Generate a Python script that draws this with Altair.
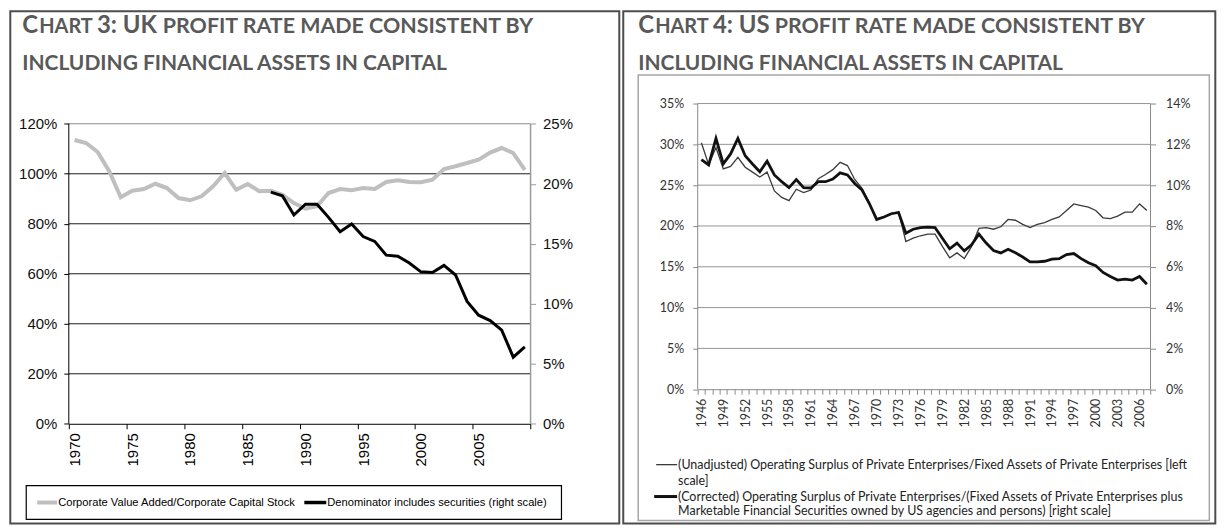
import altair as alt
import pandas as pd

# ---------------- data ----------------
uk_years = list(range(1970, 2010))
uk_corporate = [113.5, 112.3, 108.7, 101.0, 90.6, 93.2, 93.9, 96.0, 94.3, 90.3,
                89.4, 91.0, 95.0, 100.3, 93.6, 95.9, 93.0, 93.2, 91.6, 88.3,
                86.0, 87.0, 92.3, 93.9, 93.4, 94.3, 93.9, 96.7, 97.4, 96.7,
                96.6, 97.6, 101.9, 103.0, 104.3, 105.6, 108.5, 110.3, 108.3, 101.6]
uk_sec_years = list(range(1987, 2010))
uk_securities = [19.3, 19.0, 17.4, 18.3, 18.3, 17.2, 16.0, 16.65, 15.6, 15.2,
                 14.05, 13.96, 13.4, 12.66, 12.6, 13.2, 12.4, 10.2, 9.05, 8.6,
                 7.8, 5.55, 6.4]

us_years = list(range(1946, 2008))
us_unadjusted = [30.2, 27.5, 29.6, 27.0, 27.3, 28.4, 27.2, 26.6, 26.0, 26.6,
                 24.3, 23.5, 23.1, 24.5, 24.1, 24.4, 25.8, 26.3, 26.9, 27.8,
                 27.4, 25.7, 24.6, 22.8, 20.8, 21.1, 21.5, 21.7, 18.1, 18.5,
                 18.8, 19.0, 19.0, 17.5, 16.1, 16.7, 16.0, 17.5, 19.7, 19.8,
                 19.6, 19.9, 20.8, 20.7, 20.2, 19.8, 20.2, 20.4, 20.8, 21.1,
                 21.9, 22.7, 22.5, 22.3, 21.9, 21.0, 20.9, 21.2, 21.7, 21.7,
                 22.7, 21.9]
us_corrected = [11.25, 10.99, 12.29, 11.04, 11.53, 12.29, 11.44, 11.04, 10.66, 11.17,
                10.5, 10.17, 9.88, 10.27, 9.88, 9.86, 10.17, 10.17, 10.3, 10.6,
                10.5, 10.08, 9.76, 9.1, 8.32, 8.44, 8.6, 8.66, 7.64, 7.84,
                7.92, 7.94, 7.92, 7.4, 6.88, 7.16, 6.78, 7.08, 7.6, 7.16,
                6.8, 6.68, 6.86, 6.69, 6.48, 6.24, 6.24, 6.27, 6.37, 6.4,
                6.6, 6.65, 6.4, 6.2, 6.05, 5.72, 5.52, 5.35, 5.39, 5.35,
                5.52, 5.14]

uk_left_ticks = [0, 20, 40, 60, 80, 100, 120]
uk_right_ticks = [0, 5, 10, 15, 20, 25]
us_left_ticks = [0, 5, 10, 15, 20, 25, 30, 35]
us_right_ticks = [0, 2, 4, 6, 8, 10, 12, 14]
uk_grid = [20, 40, 60, 80, 100]
us_grid = [5, 10, 15, 20, 25, 30, 35]

uk_title1 = ["C", "HART", "3: UK", "PROFIT RATE MADE CONSISTENT BY"]
us_title1 = ["C", "HART", "4: US", "PROFIT RATE MADE CONSISTENT BY"]
title2 = "INCLUDING FINANCIAL ASSETS IN CAPITAL"
uk_legend = ["Corporate Value Added/Corporate  Capital Stock",
             "Denominator  includes securities (right scale)"]
us_legend = ["(Unadjusted) Operating Surplus of Private Enterprises/Fixed Assets  of Private Enterprises [left",
             "scale]",
             "(Corrected) Operating Surplus of Private Enterprises/(Fixed Assets of Private Enterprises plus",
             "Marketable Financial Securities owned by US agencies and persons) [right scale]"]

# ---------------- layout / style ----------------
LAT = "Lato"
ARI = "Liberation Sans"
TITLE_C = "#595959"
TOP = 101.7
LX0, RX0 = 67.7, 696.7
W1, H1 = 463.3, 321.3
W2, H2 = 454.3, 286.6
UK_LMAX = 120 * H1 / 301.0
UK_RMAX = 25 * H1 / 301.0
T_SIZES = [24, 20, 24, 21.5]
T2_SIZE = 21


def one():
    return pd.DataFrame({"k": [0]})


def text(s, ax, ay, ox, size, font, color, weight="normal", align="left", baseline="alphabetic"):
    return alt.Chart(pd.DataFrame({"t": [s]})).mark_text(
        font=font, fontSize=size, fontWeight=weight, color=color,
        align=align, baseline=baseline
    ).encode(text="t:N", x=alt.value(ax - ox), y=alt.value(ay - TOP))


def rect(x1, y1, x2, y2, ox, color, sw):
    return alt.Chart(one()).mark_rect(filled=False, stroke=color, strokeWidth=sw).encode(
        x=alt.value(x1 - ox), x2=alt.value(x2 - ox),
        y=alt.value(y1 - TOP), y2=alt.value(y2 - TOP))


def seg(x1, x2, y, ox, color, sw):
    return alt.Chart(one()).mark_rule(color=color, strokeWidth=sw).encode(
        x=alt.value(x1 - ox), x2=alt.value(x2 - ox), y=alt.value(y - TOP))


def title_layers(words, x_positions, ox):
    out = []
    for w, xp, sz in zip(words, x_positions, T_SIZES):
        out.append(text(w, xp, 31, ox, sz, LAT, TITLE_C, weight="bold"))
    out.append(text(title2, x_positions[0], 68, ox, T2_SIZE, LAT, TITLE_C, weight="bold"))
    return out


# ---------------- UK chart ----------------
xs1 = alt.Scale(domain=[1969.5, 2009.5], nice=False, zero=False)
ys1 = alt.Scale(domain=[0, UK_LMAX], nice=False)
ys1r = alt.Scale(domain=[0, UK_RMAX], nice=False)

uk_xaxis = alt.Axis(
    values=[1969.5 + 5 * k for k in range(9)],
    labelExpr="datum.value < 2008 ? format(datum.value + 0.5, 'd') : ''",
    labelOffset=W1 / 80.0, labelAngle=270, labelAlign="right", labelBaseline="middle",
    labelPadding=4, labelFont=ARI, labelFontSize=15, labelColor="#000",
    labelOverlap=False, labelFlush=False, domainColor="#000", tickColor="#000",
    tickSize=5, grid=False, title=None)
uk_yaxis = alt.Axis(
    orient="left", values=uk_left_ticks, labelExpr="datum.value + '%'",
    domain=False, tickColor="#000", tickSize=5, labelPadding=7,
    labelFont=ARI, labelFontSize=15, labelColor="#111", labelOverlap=False,
    labelFlush=False, grid=False, title=None)
uk_raxis_def = alt.Axis(
    orient="right", values=uk_right_ticks, labelExpr="datum.value + '%'",
    domain=False, tickColor="#9a9a9a", tickSize=5, labelPadding=7,
    labelFont=ARI, labelFontSize=15, labelColor="#111", labelOverlap=False,
    labelFlush=False, grid=False, title=None)

uk_df = pd.DataFrame({"year": uk_years, "v": uk_corporate})
uk_sec_df = pd.DataFrame({"year": uk_sec_years, "r": uk_securities})

uk_grid_l = alt.Chart(pd.DataFrame({"g": uk_grid})).mark_rule(color="#1a1a1a", strokeWidth=1).encode(
    y=alt.Y("g:Q", scale=ys1, axis=uk_yaxis))
uk_grid_t = alt.Chart(pd.DataFrame({"g": [120]})).mark_rule(color="#8c8c8c", strokeWidth=1.2).encode(
    y=alt.Y("g:Q", scale=ys1, axis=uk_yaxis))
uk_axis_df = pd.DataFrame({"a": [0], "b": [120]})
uk_laxis = alt.Chart(uk_axis_df).mark_rule(color="#000", strokeWidth=1).encode(
    x=alt.value(0), y=alt.Y("a:Q", scale=ys1, axis=uk_yaxis), y2="b:Q")
uk_raxis = alt.Chart(uk_axis_df).mark_rule(color="#9a9a9a", strokeWidth=1.5).encode(
    x=alt.value(W1), y=alt.Y("a:Q", scale=ys1, axis=uk_yaxis), y2="b:Q")

uk_gray = alt.Chart(uk_df).mark_line(color="#BFBFBF", strokeWidth=4).encode(
    x=alt.X("year:Q", scale=xs1, axis=uk_xaxis),
    y=alt.Y("v:Q", scale=ys1, axis=uk_yaxis))

uk_black = alt.Chart(uk_sec_df).mark_line(color="#000", strokeWidth=3).encode(
    x=alt.X("year:Q", scale=xs1, axis=uk_xaxis),
    y=alt.Y("r:Q", scale=ys1r, axis=uk_raxis_def))

uk_deco = [rect(9, 9, 620, 523, LX0, "#4d4d4d", 2)]
uk_deco += title_layers(uk_title1, [21, 38, 96, 162], LX0)
uk_deco += [
    rect(25, 485, 562, 519, LX0, "#000", 1.2),
    seg(36, 56, 502, LX0, "#BFBFBF", 4),
    text(uk_legend[0], 57, 502, LX0, 11.2, ARI, "#000", baseline="middle"),
    seg(304, 326, 502, LX0, "#000", 3.5),
    text(uk_legend[1], 327, 502, LX0, 11.2, ARI, "#000", baseline="middle"),
]

uk_A = alt.layer(*uk_deco, uk_grid_l, uk_grid_t, uk_gray, uk_laxis, uk_raxis)
uk = alt.layer(uk_A, uk_black).resolve_scale(y="independent").properties(width=W1, height=H1)

# ---------------- US chart ----------------
xs2 = alt.Scale(domain=[1945.5, 2007.5], nice=False, zero=False)
ys2 = alt.Scale(domain=[0, 35], nice=False)
ys2r = alt.Scale(domain=[0, 14], nice=False)

us_xaxis = alt.Axis(
    values=[1945.5 + k for k in range(63)],
    labelExpr="(datum.value + 0.5 - 1946) % 3 == 0 ? format(datum.value + 0.5, 'd') : ''",
    labelOffset=W2 / 124.0, labelAngle=270, labelAlign="right", labelBaseline="middle",
    labelPadding=4, labelFont=LAT, labelFontSize=12.5, labelColor="#333",
    labelOverlap=False, labelFlush=False, domainColor="#8a8a8a", tickColor="#8a8a8a",
    tickSize=5, grid=False, title=None)
us_yaxis = alt.Axis(
    orient="left", values=us_left_ticks, labelExpr="datum.value + '%'",
    domain=False, tickColor="#8a8a8a", tickSize=5, labelPadding=9,
    labelFont=LAT, labelFontSize=12.5, labelColor="#333", labelOverlap=False,
    labelFlush=False, grid=False, title=None)
us_raxis_def = alt.Axis(
    orient="right", values=us_right_ticks, labelExpr="datum.value + '%'",
    domain=False, tickColor="#8a8a8a", tickSize=5, labelPadding=10,
    labelFont=LAT, labelFontSize=12.5, labelColor="#333", labelOverlap=False,
    labelFlush=False, grid=False, title=None)

us_df = pd.DataFrame({"year": us_years, "u": us_unadjusted, "c": us_corrected})

us_gridl = alt.Chart(pd.DataFrame({"g": us_grid})).mark_rule(color="#959595", strokeWidth=1).encode(
    y=alt.Y("g:Q", scale=ys2, axis=us_yaxis))
us_axis_df = pd.DataFrame({"a": [0], "b": [35]})
us_laxis = alt.Chart(us_axis_df).mark_rule(color="#8a8a8a", strokeWidth=1).encode(
    x=alt.value(0), y=alt.Y("a:Q", scale=ys2, axis=us_yaxis), y2="b:Q")
us_raxis = alt.Chart(us_axis_df).mark_rule(color="#8a8a8a", strokeWidth=1).encode(
    x=alt.value(W2), y=alt.Y("a:Q", scale=ys2, axis=us_yaxis), y2="b:Q")

us_thin = alt.Chart(us_df).mark_line(color="#3a3a3a", strokeWidth=1.3).encode(
    x=alt.X("year:Q", scale=xs2, axis=us_xaxis),
    y=alt.Y("u:Q", scale=ys2, axis=us_yaxis))

us_thick = alt.Chart(us_df).mark_line(color="#111", strokeWidth=2.8).encode(
    x=alt.X("year:Q", scale=xs2, axis=us_xaxis),
    y=alt.Y("c:Q", scale=ys2r, axis=us_raxis_def))

us_deco = [rect(622, 9, 1216, 523, RX0, "#4d4d4d", 2)]
us_deco += title_layers(us_title1, [637, 654, 712, 774], RX0)
us_deco += [
    rect(637, 73, 1210, 520, RX0, "#a6a6a6", 1.5),
    seg(655, 676, 464, RX0, "#3a3a3a", 1.3),
    text(us_legend[0], 677, 464, RX0, 12.5, LAT, "#222", baseline="middle"),
    text(us_legend[1], 677, 480, RX0, 12.5, LAT, "#222", baseline="middle"),
    seg(653, 676, 496, RX0, "#111", 3),
    text(us_legend[2], 677, 496, RX0, 12.5, LAT, "#222", baseline="middle"),
    text(us_legend[3], 677, 511, RX0, 12.5, LAT, "#222", baseline="middle"),
]

us_A = alt.layer(*us_deco, us_gridl, us_thin, us_laxis, us_raxis)
us = alt.layer(us_A, us_thick).resolve_scale(y="independent").properties(width=W2, height=H2)

chart = alt.hconcat(uk, us, spacing=0, padding=0).configure_view(stroke="transparent")
chart.save("out.html", embed_options={"renderer": "svg", "actions": False})
